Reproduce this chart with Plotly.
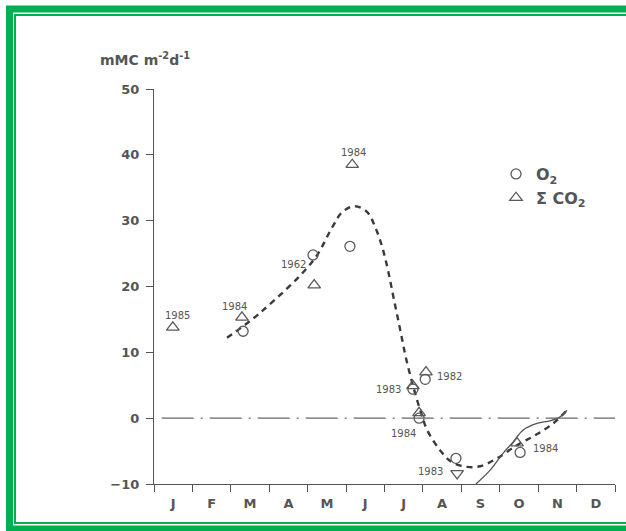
import plotly.graph_objects as go

# ---------------- data ----------------
month_labels = ["J", "F", "M", "A", "M", "J", "J", "A", "S", "O", "N", "D"]
month_centers = [i + 0.5 for i in range(12)]
month_edges = list(range(13))

# dashed fitted curve
curve_x = [1.90, 2.76, 4.14, 4.64, 4.90, 5.23, 5.55, 5.76, 5.94, 6.09, 6.25, 6.41,
           6.56, 6.74, 6.93, 7.11, 7.45, 7.76, 8.15, 8.49, 8.93, 9.45, 9.92, 10.39, 10.75]
curve_y = [12.2, 16.0, 23.9, 29.0, 31.3, 32.2, 31.3, 29.0, 26.0, 22.5, 17.9, 13.4,
           9.1, 5.0, 1.2, -1.8, -4.9, -6.7, -7.4, -7.3, -6.1, -4.1, -2.6, -0.8, 1.2]

# solid line (autumn)
solid_x = [8.38, 8.75, 9.09, 9.35, 9.61, 9.97, 10.31, 10.57, 10.75]
solid_y = [-10.0, -7.9, -5.3, -3.6, -1.8, -0.8, -0.4, 0.2, 1.2]

# O2 (circles)
o2_x = [2.32, 4.14, 5.10, 6.74, 7.06, 6.90, 7.86, 9.53]
o2_y = [13.2, 24.8, 26.1, 4.4, 5.9, 0.0, -6.1, -5.2]

# Sigma CO2 (triangles)
co2_x = [0.49, 2.29, 4.17, 5.16, 6.74, 7.08, 6.90, 7.89, 9.45]
co2_y = [13.8, 15.3, 20.2, 38.5, 4.9, 7.0, 0.8, -8.4, -3.8]
co2_symbol = ["triangle-up-open"] * 7 + ["triangle-down-open", "triangle-up-open"]

# year labels
year_text = ["1985", "1984", "1962", "1984", "1983", "1982", "1984", "1983", "1984"]
year_x = [0.60, 2.10, 3.62, 5.18, 6.10, 7.70, 6.50, 7.20, 10.20]
year_y = [15.6, 16.9, 23.3, 40.3, 4.4, 6.4, -2.3, -8.1, -4.6]

y_ticks = [50, 40, 30, 20, 10, 0, -10]

# ---------------- geometry helpers ----------------
W, H = 626, 531
L, R, T, B = 154, 615, 89, 484


def px_x(px):
    return (px - L) / (R - L)


def px_y(py):
    return (B - py) / (B - T)


GRAY = "#555555"
FONT = "DejaVu Sans"

fig = go.Figure()

fig.add_trace(go.Scatter(
    x=curve_x, y=curve_y, mode="lines", line_shape="spline",
    line=dict(color="#3a3a3a", width=2.4, dash="6px,5px"),
    showlegend=False, hoverinfo="skip"))

fig.add_trace(go.Scatter(
    x=solid_x, y=solid_y, mode="lines", line_shape="spline",
    line=dict(color="#555555", width=1.3),
    showlegend=False, hoverinfo="skip"))

fig.add_trace(go.Scatter(
    x=o2_x, y=o2_y, mode="markers", name="O<sub>2</sub>",
    marker=dict(symbol="circle-open", size=10, color="#5a5a5a",
                line=dict(width=1.3, color="#5a5a5a"))))

fig.add_trace(go.Scatter(
    x=co2_x, y=co2_y, mode="markers", name="Σ CO<sub>2</sub>",
    marker=dict(symbol=co2_symbol, size=11, color="#5a5a5a",
                line=dict(width=1.3, color="#5a5a5a"))))

for t, x, y in zip(year_text, year_x, year_y):
    fig.add_annotation(x=x, y=y, text=t, showarrow=False,
                       font=dict(family=FONT, size=10, color=GRAY))

# zero dash-dot line
fig.add_shape(type="line", xref="x", yref="y", x0=0.2, x1=12, y0=0, y1=0,
              line=dict(color="#666666", width=1.3, dash="32px,7px,2px,7px"))

# y axis title
fig.add_annotation(xref="paper", yref="paper", x=px_x(98), y=px_y(59),
                   xanchor="left", yanchor="middle", showarrow=False,
                   text="mMC m<sup>-2</sup>d<sup>-1</sup>",
                   font=dict(family=FONT, size=14, color=GRAY, weight="bold"))

# green frame
fig.add_shape(type="rect", xref="paper", yref="paper", layer="above",
              x0=px_x(9.5), x1=px_x(660), y0=px_y(9), y1=px_y(529),
              line=dict(color="#00B050", width=7))
fig.add_shape(type="rect", xref="paper", yref="paper", layer="above",
              x0=px_x(15), x1=px_x(660), y0=px_y(15), y1=px_y(523),
              line=dict(color="#00B050", width=2))

fig.update_layout(
    width=W, height=H,
    margin=dict(l=L, r=W - R, t=T, b=H - B),
    paper_bgcolor="white", plot_bgcolor="white",
    font=dict(family=FONT, color=GRAY),
    legend=dict(x=px_x(496), y=px_y(157), xanchor="left", yanchor="top",
                font=dict(family=FONT, size=16, color=GRAY, weight="bold"),
                itemwidth=30, bgcolor="rgba(0,0,0,0)", tracegroupgap=0),
    xaxis=dict(range=[0, 12], showgrid=False, zeroline=False,
               showline=True, linecolor=GRAY, linewidth=1.3,
               tickmode="array", tickvals=month_centers, ticktext=month_labels,
               ticks="", ticklabelstandoff=7,
               tickfont=dict(family=FONT, size=13, color=GRAY, weight="bold"),
               minor=dict(tickmode="array", tickvals=month_edges, ticks="outside",
                          ticklen=7, tickcolor=GRAY, tickwidth=1.3)),
    yaxis=dict(range=[-10, 50], showgrid=False, zeroline=False,
               showline=True, linecolor=GRAY, linewidth=1.3,
               tickmode="array", tickvals=y_ticks,
               ticks="outside", ticklen=7, tickcolor=GRAY, tickwidth=1.3,
               ticklabelstandoff=4,
               tickfont=dict(family=FONT, size=13, color=GRAY, weight="bold")),
)

fig.write_html("out.html")
